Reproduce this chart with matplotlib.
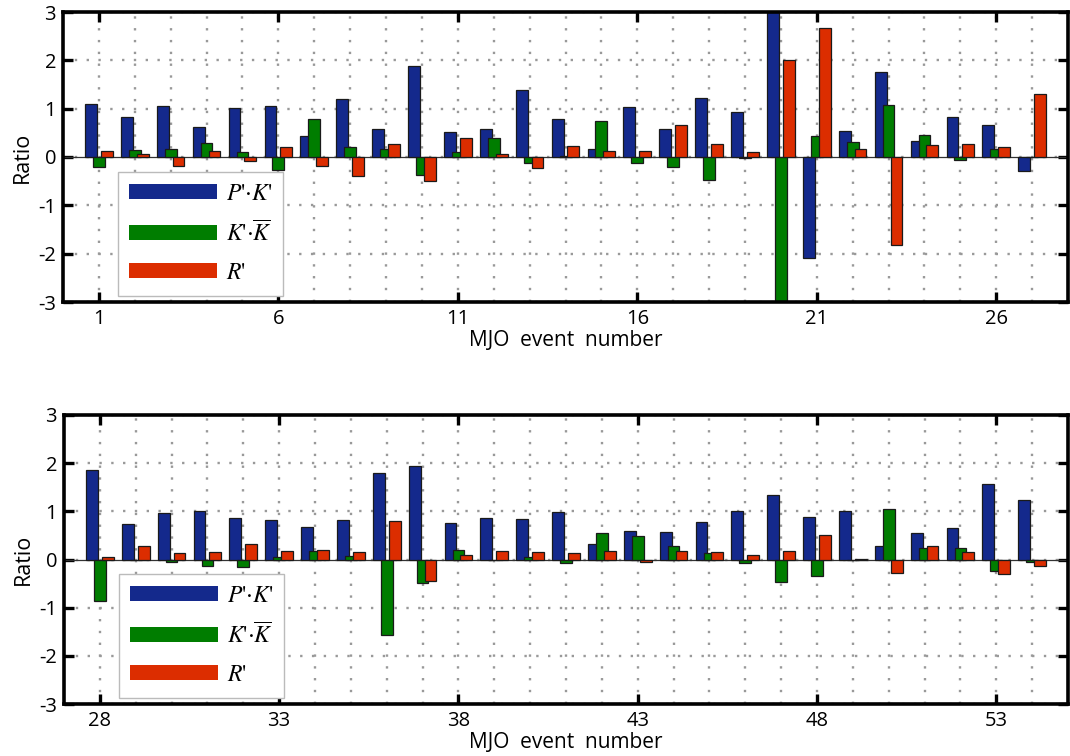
import matplotlib
matplotlib.use("Agg")
import matplotlib.pyplot as plt
from matplotlib.patches import Patch
import numpy as np

plt.rcParams['font.family'] = ['Open Sans', 'DejaVu Sans']
plt.rcParams['mathtext.fontset'] = 'stix'

# ---- data ----
events_top = list(range(1, 28))
pk_top = [1.09, 0.83, 1.06, 0.62, 1.01, 1.06, 0.43, 1.21, 0.58, 1.88,
          0.51, 0.58, 1.39, 0.79, 0.17, 1.03, 0.58, 1.22, 0.93, 3.0,
          -2.08, 0.54, 1.76, 0.33, 0.83, 0.66, -0.29]
kk_top = [-0.21, 0.14, 0.17, 0.28, 0.10, -0.26, 0.79, 0.21, 0.17, -0.37,
          0.11, 0.39, -0.13, 0.02, 0.74, -0.13, -0.21, -0.48, -0.02, -3.0,
          0.43, 0.32, 1.07, 0.46, -0.07, 0.17, 0.0]
r_top = [0.12, 0.06, -0.19, 0.12, -0.09, 0.21, -0.19, -0.39, 0.26, -0.50,
         0.39, 0.06, -0.23, 0.23, 0.12, 0.12, 0.66, 0.27, 0.10, 2.00,
         2.66, 0.17, -1.82, 0.25, 0.27, 0.21, 1.30]

events_bot = list(range(28, 55))
pk_bot = [1.85, 0.73, 0.97, 1.01, 0.87, 0.83, 0.68, 0.83, 1.79, 1.95,
          0.75, 0.87, 0.85, 0.99, 0.32, 0.60, 0.58, 0.77, 1.01, 1.34,
          0.89, 1.01, 0.27, 0.54, 0.66, 1.56, 1.24]
kk_bot = [-0.86, 0.0, -0.06, -0.14, -0.16, 0.05, 0.17, 0.07, -1.56, -0.49,
          0.19, 0.0, 0.05, -0.08, 0.56, 0.48, 0.27, 0.13, -0.08, -0.47,
          -0.35, -0.01, 1.05, 0.23, 0.23, -0.23, -0.06]
r_bot = [0.05, 0.29, 0.13, 0.15, 0.32, 0.17, 0.19, 0.15, 0.80, -0.45,
         0.09, 0.17, 0.15, 0.13, 0.17, -0.06, 0.17, 0.15, 0.09, 0.17,
         0.50, 0.01, -0.29, 0.27, 0.15, -0.31, -0.14]

yticks = [-3, -2, -1, 0, 1, 2, 3]
xticks_top = [1, 6, 11, 16, 21, 26]
xticks_bot = [28, 33, 38, 43, 48, 53]

series_labels = [r"$P\text{'}{\cdot}K\text{'}$",
                 r"$K\text{'}{\cdot}\overline{K}$",
                 r"$R\text{'}$"]
colors = ['#14298C', '#007D00', '#DC2D00']

W, H = 1070, 756
fig = plt.figure(figsize=(W / 100, H / 100), dpi=100)
ax1 = fig.add_axes([63 / W, 1 - 302 / H, 1005 / W, 290 / H])
ax2 = fig.add_axes([64 / W, 1 - 704 / H, 1004 / W, 289 / H])

bw = 0.33
off = 0.22


def draw(ax, ev, pk, kk, rr, xt):
    ev = np.array(ev)
    for i, (vals, c) in enumerate(zip([pk, kk, rr], colors)):
        ax.bar(ev + (i - 1) * off, vals, width=bw, color=c,
               edgecolor='#1a1a1a', linewidth=0.9, zorder=3)
    ax.axhline(0, color='#333333', lw=0.9, zorder=2)
    ax.set_xlim(ev[0] - 1, ev[-1] + 1)
    ax.set_ylim(-3, 3)
    ax.set_yticks(yticks)
    ax.set_yticklabels([str(v) for v in yticks])
    ax.set_xticks(xt)
    ax.set_xticks(list(ev), minor=True)
    ax.tick_params(axis='both', which='major', direction='in', length=7,
                   width=2.4, top=True, right=True, labelsize=14.5, pad=5)
    ax.tick_params(axis='both', which='minor', length=0)
    ax.grid(which='both', axis='x', color='#999999', linestyle=(0, (1, 4)),
            linewidth=1.7, zorder=1)
    ax.grid(which='major', axis='y', color='#999999', linestyle=(0, (1, 4)),
            linewidth=1.7, zorder=1)
    for s in ax.spines.values():
        s.set_linewidth(2.6)
        s.set_zorder(5)
    ax.set_ylabel('Ratio', fontsize=15.5, labelpad=4)
    ax.set_xlabel('MJO  event  number', fontsize=15, labelpad=1)
    handles = [Patch(facecolor=c, edgecolor='none') for c in colors]
    leg = ax.legend(handles, series_labels, loc='lower left',
                    bbox_to_anchor=(0.055, 0.021), borderaxespad=0,
                    fontsize=17, handlelength=3.75, handleheight=0.6,
                    handletextpad=0.35, labelspacing=0.62, borderpad=0.45,
                    fancybox=False, framealpha=1, edgecolor='#bbbbbb')
    leg.get_frame().set_linewidth(1.0)
    leg.set_zorder(6)


draw(ax1, events_top, pk_top, kk_top, r_top, xticks_top)
draw(ax2, events_bot, pk_bot, kk_bot, r_bot, xticks_bot)

fig.savefig('out.png', dpi=100)
